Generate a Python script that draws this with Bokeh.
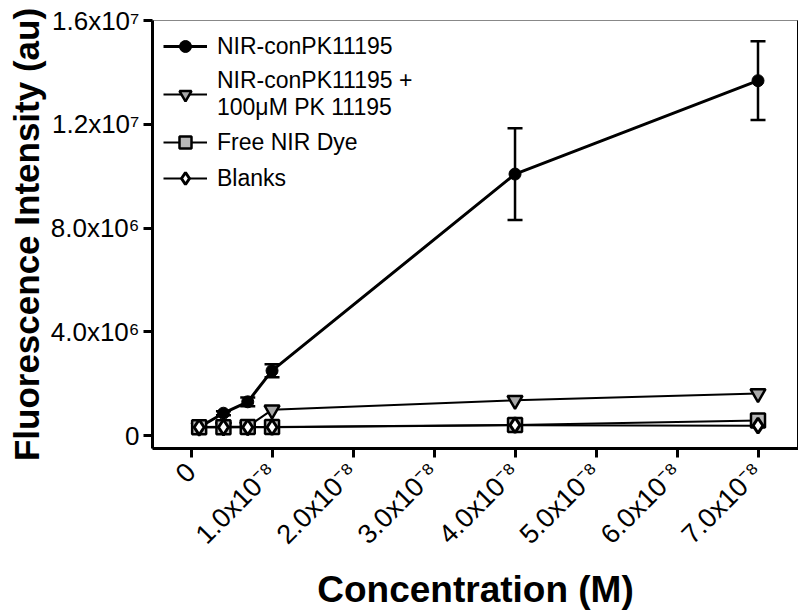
import math
from bokeh.plotting import figure
from bokeh.models import (ColumnDataSource, Range1d, FixedTicker, LinearAxis, Legend,
                          LegendItem, Whisker, TeeHead)
from bokeh.embed import file_html
from bokeh.resources import INLINE

# concentration in nM (axis labels shown in M)
conc_nM = [1, 4, 7, 10, 40, 70]
conpk = [0.32e6, 0.86e6, 1.30e6, 2.50e6, 10.08e6, 13.68e6]
conpk_err = [0.05e6, 0.08e6, 0.17e6, 0.25e6, 1.77e6, 1.52e6]
blocked = [0.33e6, 0.34e6, 0.35e6, 0.99e6, 1.36e6, 1.62e6]
free_dye = [0.32e6, 0.32e6, 0.33e6, 0.33e6, 0.41e6, 0.58e6]
blanks = [0.32e6, 0.32e6, 0.32e6, 0.32e6, 0.40e6, 0.38e6]

x_ticks = [0, 10, 20, 30, 40, 50, 60, 70]
x_tick_labels = ["0", "1.0x10\u207b\u2078", "2.0x10\u207b\u2078", "3.0x10\u207b\u2078",
                 "4.0x10\u207b\u2078", "5.0x10\u207b\u2078", "6.0x10\u207b\u2078", "7.0x10\u207b\u2078"]
y_ticks = [0, 4000000, 8000000, 12000000, 16000000]
y_tick_labels = ["0", "4.0x10\u2076", "8.0x10\u2076", "1.2x10\u2077", "1.6x10\u2077"]

names = ["NIR-conPK11195", "NIR-conPK11195 +\n100\u03bcM PK 11195", "Free NIR Dye", "Blanks"]

FONT = "Liberation Sans"

p = figure(width=798, height=613, output_backend="svg", toolbar_location=None,
           x_range=Range1d(-4.76, 75.0), y_range=Range1d(-0.5e6, 1.6e7),
           min_border_left=152, min_border_top=20, min_border_bottom=165, min_border_right=0)
p.xgrid.visible = False
p.ygrid.visible = False
p.outline_line_color = "#888888"
p.outline_line_width = 1
p.background_fill_color = "white"
p.border_fill_color = "white"

for ax in (p.xaxis[0], p.yaxis[0]):
    ax.axis_line_width = 3
    ax.axis_line_color = "black"
    ax.major_tick_line_width = 3
    ax.major_tick_out = 9
    ax.major_tick_in = 0
    ax.minor_tick_line_color = None
    ax.major_label_text_font = FONT
    ax.major_label_text_color = "black"
    ax.axis_label_text_font = FONT
    ax.axis_label_text_font_style = "bold"
    ax.axis_label_text_color = "black"

p.xaxis.ticker = FixedTicker(ticks=x_ticks)
p.xaxis.major_label_overrides = {t: l for t, l in zip(x_ticks, x_tick_labels)}
p.xaxis.major_label_orientation = math.pi / 4
p.xaxis.major_label_text_font_size = "27px"
p.xaxis.major_label_standoff = 10
p.xaxis.axis_label = "Concentration (M)"
p.xaxis.axis_label_text_font_size = "37px"
p.xaxis.axis_label_standoff = 6

p.yaxis.ticker = FixedTicker(ticks=y_ticks)
p.yaxis.major_label_overrides = {t: l for t, l in zip(y_ticks, y_tick_labels)}
p.yaxis.major_label_text_font_size = "26px"
p.yaxis.axis_label = "Fluorescence Intensity (au)"
p.yaxis.axis_label_text_font_size = "35px"
p.yaxis.axis_label_standoff = 2
p.yaxis.major_label_standoff = 4

right = LinearAxis(ticker=FixedTicker(ticks=[]), major_label_text_font_size="0px",
                   axis_line_width=3, major_tick_line_color=None, minor_tick_line_color=None)
p.add_layout(right, "right")

src = ColumnDataSource(dict(x=conc_nM, conpk=conpk, blocked=blocked, free=free_dye, blanks=blanks,
                            upper=[v + e for v, e in zip(conpk, conpk_err)],
                            lower=[v - e for v, e in zip(conpk, conpk_err)]))

w = Whisker(source=src, base="x", upper="upper", lower="lower", line_width=2.5, line_color="black",
            upper_head=TeeHead(size=15, line_width=2.5), lower_head=TeeHead(size=15, line_width=2.5))
p.add_layout(w)

l1 = p.line("x", "conpk", source=src, line_width=3, color="black")
s1 = p.scatter("x", "conpk", source=src, marker="circle", size=12, fill_color="black", line_color="black")

l2 = p.line("x", "blocked", source=src, line_width=2, color="black")
s2 = p.scatter("x", "blocked", source=src, marker="inverted_triangle", size=15,
               fill_color="#a8a8a8", line_color="black", line_width=2.5)

l3 = p.line("x", "free", source=src, line_width=2, color="black")
s3 = p.scatter("x", "free", source=src, marker="square", size=14,
               fill_color="#b8b8b8", line_color="black", line_width=2.5)

l4 = p.line("x", "blanks", source=src, line_width=2, color="black")
s4 = p.scatter("x", "blanks", source=src, marker="diamond", size=15,
               fill_color="white", line_color="black", line_width=3)

legend = Legend(items=[LegendItem(label=names[0], renderers=[l1, s1]),
                       LegendItem(label=names[1], renderers=[l2, s2]),
                       LegendItem(label=names[2], renderers=[l3, s3]),
                       LegendItem(label=names[3], renderers=[l4, s4])],
                location="top_left", border_line_color=None, background_fill_alpha=0,
                label_text_font=FONT, label_text_font_size="23px", label_text_color="black",
                glyph_width=44, glyph_height=30, label_height=30, spacing=6,
                label_standoff=10, margin=11, padding=0)
p.add_layout(legend)

open("out.html", "w").write(file_html(p, INLINE))
